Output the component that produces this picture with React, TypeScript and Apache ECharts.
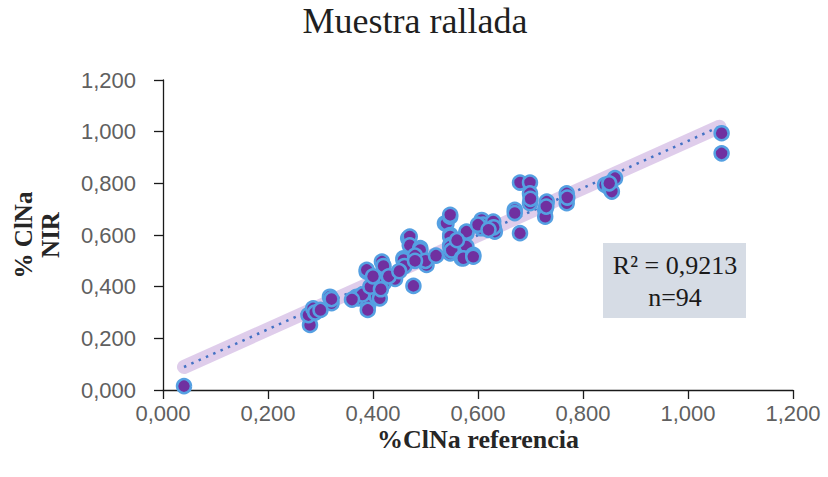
import React, { useEffect, useRef } from "react";
import * as echarts from "echarts";

// %ClNa measured by the reference method (x) and predicted by NIR (y)
const referenceValues: number[] = [
  0.04, 0.28, 0.277, 0.286, 0.29, 0.318, 0.321, 0.321, 0.369, 0.372,
  0.388, 0.388, 0.391, 0.39, 0.4, 0.407, 0.413, 0.41, 0.42, 0.417,
  0.42, 0.405, 0.439, 0.442, 0.458, 0.458, 0.46, 0.467, 0.47, 0.47,
  0.477, 0.49, 0.49, 0.48, 0.502, 0.5, 0.537, 0.54, 0.547, 0.547,
  0.547, 0.547, 0.547, 0.547, 0.547, 0.55, 0.578, 0.578, 0.578, 0.569,
  0.572, 0.591, 0.591, 0.607, 0.607, 0.61, 0.629, 0.632, 0.63, 0.67,
  0.67, 0.68, 0.68, 0.699, 0.699, 0.699, 0.7, 0.731, 0.728, 0.728,
  0.73, 0.769, 0.769, 0.77, 0.842, 0.851, 0.855, 0.861, 0.85, 1.064,
  1.064, 0.38, 0.395, 0.43, 0.45, 0.4, 0.415, 0.36, 0.52, 0.56,
  0.6, 0.62, 0.3, 0.48,
];
const nirValues: number[] = [
  0.015, 0.252, 0.29, 0.316, 0.3, 0.361, 0.336, 0.352, 0.361, 0.355,
  0.458, 0.465, 0.329, 0.31, 0.387, 0.361, 0.355, 0.413, 0.413, 0.497,
  0.48, 0.42, 0.439, 0.43, 0.51, 0.503, 0.48, 0.587, 0.594, 0.56,
  0.403, 0.549, 0.542, 0.52, 0.484, 0.5, 0.645, 0.645, 0.671, 0.678,
  0.6, 0.594, 0.561, 0.555, 0.529, 0.54, 0.607, 0.613, 0.555, 0.51,
  0.51, 0.523, 0.516, 0.658, 0.626, 0.64, 0.652, 0.613, 0.63, 0.697,
  0.685, 0.607, 0.803, 0.803, 0.761, 0.723, 0.74, 0.729, 0.697, 0.671,
  0.71, 0.761, 0.723, 0.745, 0.794, 0.781, 0.768, 0.82, 0.8, 0.994,
  0.916, 0.37, 0.4, 0.44, 0.46, 0.44, 0.39, 0.35, 0.52, 0.58,
  0.64, 0.62, 0.31, 0.5,
];

// Linear trendline end points (x, y)
const trendStart: number[] = [0.04, 0.089];
const trendEnd: number[] = [1.06, 1.019];

const axisTicks: number[] = [0, 0.2, 0.4, 0.6, 0.8, 1.0, 1.2];

const titleText = "Muestra rallada";
const xAxisName = "%ClNa referencia";
const yAxisName = "% ClNa\nNIR";
const statsText = "R² = 0,9213\nn=94";

const fmt = (v: number) => v.toFixed(3).replace(".", ",");

export default function App() {
  const ref = useRef<HTMLDivElement>(null);

  useEffect(() => {
    if (!ref.current) return;
    const chart = echarts.init(ref.current, null, { renderer: "svg" });
    const points = referenceValues.map((x, i) => [x, nirValues[i]]);
    const trend = [trendStart, trendEnd];
    const serif = "'Liberation Serif', 'Times New Roman', serif";
    const sans = "'Liberation Sans', Arial, sans-serif";

    const axisCommon = {
      type: "value" as const,
      min: axisTicks[0],
      max: axisTicks[axisTicks.length - 1],
      interval: 0.2,
      splitLine: { show: false },
      axisLine: { show: true, lineStyle: { color: "#1a1a1a", width: 1.3 } },
      axisTick: { show: true, inside: false, length: 9, lineStyle: { color: "#1a1a1a", width: 1.3 } },
    };

    chart.setOption({
      animation: false,
      backgroundColor: "#ffffff",
      grid: { left: 163, right: 35, top: 80, bottom: 87 },
      xAxis: {
        ...axisCommon,
        axisLabel: {
          formatter: fmt,
          color: "#606060",
          fontFamily: sans,
          fontSize: 22,
          margin: 12,
        },
      },
      yAxis: {
        ...axisCommon,
        axisLabel: {
          formatter: fmt,
          color: "#606060",
          fontFamily: sans,
          fontSize: 22,
          margin: 27,
        },
      },
      graphic: [
        {
          type: "text",
          x: 415,
          y: 21,
          style: {
            text: titleText,
            font: `36px ${serif}`,
            fill: "#1f1f1f",
            textAlign: "center",
            textVerticalAlign: "middle",
          },
        },
        {
          type: "text",
          x: 478,
          y: 439,
          style: {
            text: xAxisName,
            font: `bold 26px ${serif}`,
            fill: "#262626",
            textAlign: "center",
            textVerticalAlign: "middle",
          },
        },
        {
          type: "text",
          x: 37,
          y: 235,
          rotation: Math.PI / 2,
          style: {
            text: yAxisName,
            font: `bold 25px ${serif}`,
            lineHeight: 27,
            fill: "#262626",
            textAlign: "center",
            textVerticalAlign: "middle",
          },
        },
        {
          type: "rect",
          shape: { x: 603, y: 243, width: 143, height: 75 },
          style: { fill: "#d6dce5" },
          z: 10,
        },
        {
          type: "text",
          x: 675,
          y: 281,
          z: 11,
          style: {
            text: statsText,
            font: `26px ${serif}`,
            lineHeight: 32,
            fill: "#1a1a1a",
            textAlign: "center",
            textVerticalAlign: "middle",
          },
        },
      ],
      series: [
        {
          type: "line",
          data: trend,
          symbol: "none",
          silent: true,
          lineStyle: { color: "rgba(196, 164, 218, 0.55)", width: 14, cap: "round" },
          z: 1,
        },
        {
          type: "line",
          data: trend,
          symbol: "none",
          silent: true,
          lineStyle: { color: "#4472c4", width: 2.5, type: [2.5, 5.5] },
          z: 2,
        },
        {
          type: "scatter",
          data: points,
          symbol: "circle",
          symbolSize: 14,
          itemStyle: {
            color: "#7030a0",
            borderColor: "#55a0e2",
            borderWidth: 2.5,
            opacity: 1,
          },
          z: 3,
        },
      ],
    });

    return () => chart.dispose();
  }, []);

  return (
    <div
      ref={ref}
      style={{ position: "fixed", left: 0, top: 0, width: 828, height: 477, background: "#fff" }}
    />
  );
}
